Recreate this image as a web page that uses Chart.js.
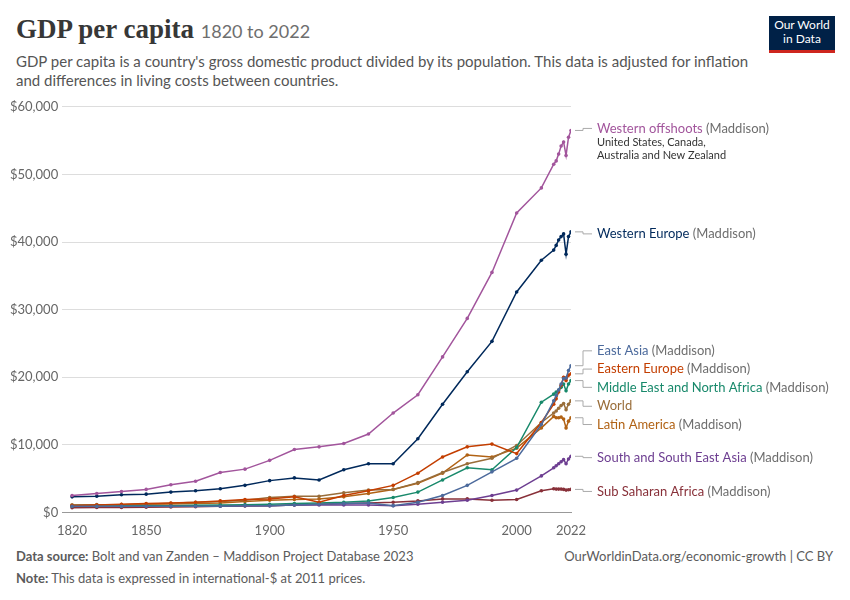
<!DOCTYPE html>
<html><head><meta charset="utf-8">
<script src="https://cdn.jsdelivr.net/npm/chart.js@4"></script>
<style>
body{margin:0;background:#fff;font-family:Lato,"Noto Sans",sans-serif;width:850px;height:600px;position:relative;overflow:hidden}
#t{position:absolute;left:16px;top:14px;font-family:"Liberation Serif",serif;font-weight:bold;font-size:27px;color:#373737}
#t span{font-family:Lato,sans-serif;font-weight:normal;font-size:18px;color:#6e6e6e}
#s{position:absolute;left:16px;top:52px;font-size:15px;color:#555;line-height:19px;width:760px}
#logo{position:absolute;left:769px;top:16px;width:66px;height:32px;background:#002147;color:#fff;font-size:12px;text-align:center;line-height:14px;padding-top:2px;border-bottom:3px solid #ce261e}
#f1{position:absolute;left:16px;top:548px;font-size:13px;color:#5b5b5b}
#f2{position:absolute;right:17px;top:548px;font-size:13px;color:#5b5b5b}
#f3{position:absolute;left:16px;top:570px;font-size:13px;color:#5b5b5b}
#c{position:absolute;left:0;top:95px}
</style></head><body>
<div id="t">GDP per capita <span>1820 to 2022</span></div>
<div id="s">GDP per capita is a country's gross domestic product divided by its population. This data is adjusted for inflation and differences in living costs between countries.</div>
<div id="logo">Our World<br>in Data</div>
<div id="f1"><b>Data source:</b> Bolt and van Zanden – Maddison Project Database 2023</div>
<div id="f2">OurWorldinData.org/economic-growth | CC BY</div>
<div id="f3"><b>Note:</b> This data is expressed in international-$ at 2011 prices.</div>
<canvas id="c" width="850" height="447"></canvas>
<script>
const years=[1820,1830,1840,1850,1860,1870,1880,1890,1900,1910,1920,1930,1940,1950,1960,1970,1980,1990,2000,2010,2015,2016,2017,2018,2019,2020,2021,2022];
const westernOffshoots=[2500,2800,3100,3400,4100,4600,5900,6400,7700,9300,9700,10200,11600,14700,17400,23000,28700,35500,44300,48000,51500,52000,53000,54200,54800,52800,55500,56500];
const westernEurope=[2300,2400,2600,2700,3000,3200,3500,4000,4700,5100,4800,6300,7200,7200,10900,16000,20800,25300,32600,37300,38800,39500,40300,40800,41200,38200,40800,41500];
const eastAsia=[900,900,900,900,900,900,900,1000,1000,1100,1200,1300,1400,1000,1500,2500,4000,6000,8000,13000,16500,17300,18100,19000,19800,19900,21000,21700];
const easternEurope=[1000,1100,1200,1300,1400,1500,1700,1900,2000,2300,1500,2500,3200,4000,5800,8200,9700,10100,8700,13300,16000,16800,17800,18800,20000,19500,20300,20500];
const mena=[900,900,950,1000,1000,1050,1100,1150,1200,1300,1400,1500,1700,2200,3000,4800,6600,6300,9600,16300,17500,17800,18100,18500,19000,18000,19000,19500];
const world=[1100,1150,1150,1200,1350,1500,1600,1800,2200,2400,2400,2900,3300,3400,4400,5900,7200,8000,9900,13300,14700,15000,15400,15800,16100,15200,16000,16500];
const latinAmerica=[1100,1100,1150,1200,1250,1300,1400,1600,1800,1900,2000,2300,2800,3400,4300,5800,8500,8200,9500,12500,14200,14000,14000,14100,13800,12500,13500,14000];
const southSEAsia=[900,900,900,900,950,950,950,1000,1000,1100,1100,1100,1100,1000,1200,1500,1800,2500,3300,5400,6600,6900,7200,7500,7800,7200,7900,8300];
const subSaharan=[700,720,740,760,800,850,900,950,1000,1100,1200,1300,1400,1500,1700,2000,2000,1800,1900,3200,3500,3450,3450,3450,3400,3300,3350,3400];
const series=[
 ["Western offshoots"," (Maddison)",westernOffshoots,"#a2559c",56800,"United States, Canada,|Australia and New Zealand"],
 ["Western Europe"," (Maddison)",westernEurope,"#00295b",41200,""],
 ["East Asia"," (Maddison)",eastAsia,"#4c6a9c",23900,""],
 ["Eastern Europe"," (Maddison)",easternEurope,"#c33e00",21200,""],
 ["Middle East and North Africa"," (Maddison)",mena,"#18896b",18500,""],
 ["World","",world,"#996d39",15700,""],
 ["Latin America"," (Maddison)",latinAmerica,"#b16214",13000,""],
 ["South and South East Asia"," (Maddison)",southSEAsia,"#6d3e91",8100,""],
 ["Sub Saharan Africa"," (Maddison)",subSaharan,"#883039",3100,""]];
const xTicks=[1820,1850,1900,1950,2000,2022];
const yTicks=[0,10000,20000,30000,40000,50000,60000];
const labelPlugin={id:'lbl',afterDatasetsDraw(ch){
 const c=ch.ctx,xs=ch.scales.x,ys=ch.scales.y;
 series.forEach((s,i)=>{
  const last=s[2][s[2].length-1];
  const x0=xs.getPixelForValue(2022)+4,y0=ys.getPixelForValue(last),y1=ys.getPixelForValue(s[4]);
  c.save();c.strokeStyle='#aaa';c.lineWidth=1;c.beginPath();c.moveTo(x0,y0);c.lineTo(x0+8,y0);c.lineTo(x0+8,y1);c.lineTo(x0+17,y1);c.stroke();
  c.font='13px Lato';c.textBaseline='middle';c.fillStyle=s[3];c.fillText(s[0],x0+22,y1);
  const w=c.measureText(s[0]).width;c.fillStyle='#6e6e6e';c.fillText(s[1],x0+22+w,y1);
  if(s[5]){c.font='11px Lato';c.fillStyle='#333';s[5].split('|').forEach((t,k)=>c.fillText(t,x0+22,y1+14+k*13));}
  c.restore();});
}};
new Chart(document.getElementById('c'),{type:'line',
 data:{datasets:series.map(s=>({label:s[0],data:years.map((y,i)=>({x:y,y:s[2][i]})),borderColor:s[3],backgroundColor:s[3],borderWidth:1.5,pointRadius:1.8,pointBorderWidth:0,tension:0}))},
 options:{responsive:false,animation:false,layout:{padding:{right:279,left:6,top:11}},
  plugins:{legend:{display:false},tooltip:{enabled:false}},
  scales:{x:{type:'linear',min:1816,max:2022,afterBuildTicks(a){a.ticks=xTicks.map(v=>({value:v}))},
    grid:{display:false},border:{color:'#999'},ticks:{color:'#666',font:{size:13,family:'Lato'},autoSkip:false,maxRotation:0,callback:v=>String(v)}},
   y:{min:0,max:60000,afterBuildTicks(a){a.ticks=yTicks.map(v=>({value:v}))},
    grid:{color:'#ddd',borderDash:[4,4],drawTicks:false},border:{display:false},
    ticks:{color:'#666',font:{size:13,family:'Lato'},padding:4,callback:v=>'$'+v.toLocaleString('en-US')}}}},
 plugins:[labelPlugin]});
</script></body></html>
